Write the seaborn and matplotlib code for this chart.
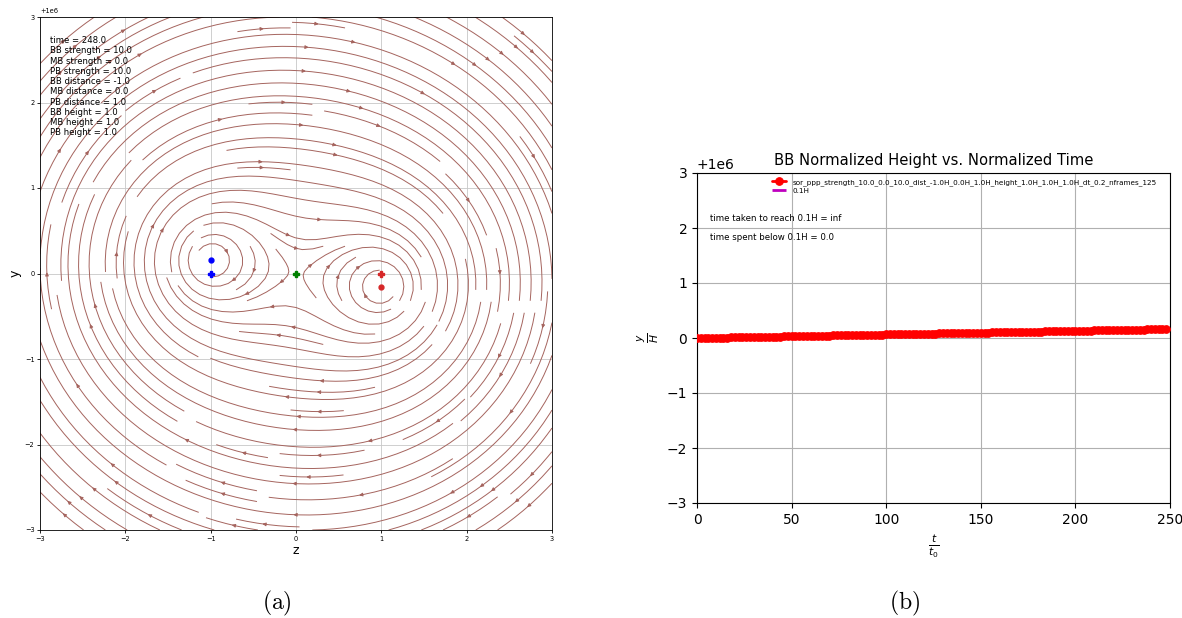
import numpy as np
import matplotlib
matplotlib.use("Agg")
import matplotlib.pyplot as plt
import seaborn as sns
import pandas as pd

# ---------------- data ----------------
y_offset = 1e6
vortex_labels = ["BB", "MB", "PB"]
vortex_z = [-1.0, 0.0, 1.0]
vortex_y = [0.16, 0.0, -0.16]
vortex_strength = [10.0, 0.0, 10.0]
vortex_colors = ["blue", "green", "#d62728"]
anchor_z = [-1.0, 0.0, 1.0]
anchor_y = [0.0, 0.0, 0.0]
info_lines = [
    "time = 248.0",
    "BB strength = 10.0",
    "MB strength = 0.0",
    "PB strength = 10.0",
    "BB distance = -1.0",
    "MB distance = 0.0",
    "PB distance = 1.0",
    "BB height = 1.0",
    "MB height = 1.0",
    "PB height = 1.0",
]
frame_times = list(range(0, 250, 2))
bb_height = [
    -0.002, -0.001, 0.001, 0.002, 0.003, 0.005, 0.006, 0.007, 0.009, 0.010,
    0.011, 0.013, 0.014, 0.015, 0.016, 0.018, 0.019, 0.020, 0.022, 0.023,
    0.024, 0.026, 0.027, 0.028, 0.030, 0.031, 0.032, 0.034, 0.035, 0.036,
    0.038, 0.039, 0.040, 0.042, 0.043, 0.044, 0.046, 0.047, 0.048, 0.049,
    0.051, 0.052, 0.053, 0.055, 0.056, 0.057, 0.059, 0.060, 0.061, 0.063,
    0.064, 0.065, 0.067, 0.068, 0.069, 0.071, 0.072, 0.073, 0.075, 0.076,
    0.077, 0.079, 0.080, 0.081, 0.082, 0.084, 0.085, 0.086, 0.088, 0.089,
    0.090, 0.092, 0.093, 0.094, 0.096, 0.097, 0.098, 0.100, 0.101, 0.102,
    0.104, 0.105, 0.106, 0.108, 0.109, 0.110, 0.112, 0.113, 0.114, 0.115,
    0.117, 0.118, 0.119, 0.121, 0.122, 0.123, 0.125, 0.126, 0.127, 0.129,
    0.130, 0.131, 0.133, 0.134, 0.135, 0.137, 0.138, 0.139, 0.141, 0.142,
    0.143, 0.145, 0.146, 0.147, 0.148, 0.150, 0.151, 0.152, 0.154, 0.155,
    0.156, 0.158, 0.159, 0.160, 0.162,
]
series_label = "sor_ppp_strength_10.0_0.0_10.0_dist_-1.0H_0.0H_1.0H_height_1.0H_1.0H_1.0H_dt_0.2_nframes_125"
threshold_label = "0.1H"
stats_lines = ["time taken to reach 0.1H = inf", "time spent below 0.1H = 0.0"]

# ---------------- style ----------------
sns.set_style("ticks")
plt.rcParams["font.family"] = ["DejaVu Sans"]
plt.rcParams["text.color"] = "black"
plt.rcParams["axes.labelcolor"] = "black"
plt.rcParams["xtick.color"] = "black"
plt.rcParams["ytick.color"] = "black"

fig = plt.figure(figsize=(11.82, 6.18), dpi=100)
ax1 = fig.add_axes([40 / 1182, 1 - 530 / 618, 512 / 1182, 513 / 618])
ax2 = fig.add_axes([697 / 1182, 1 - 503 / 618, 473 / 1182, 330 / 618])

# ---------------- left panel: streamlines ----------------
zs = np.linspace(-3, 3, 241)
ys = np.linspace(-3, 3, 241)
Z, Y = np.meshgrid(zs, ys)
U = np.zeros_like(Z)
V = np.zeros_like(Z)
core = 0.05
for z0, y0, g in zip(vortex_z, vortex_y, vortex_strength):
    dz = Z - z0
    dy = Y - y0
    r2 = dz ** 2 + dy ** 2 + core ** 2
    U += g * dy / r2
    V += -g * dz / r2

ax1.streamplot(zs, ys + y_offset, U, V, density=1.6, color="#a5645e",
               linewidth=0.7, arrowsize=0.5, zorder=2)
for z0, y0, c in zip(vortex_z, vortex_y, vortex_colors):
    if c == "green":
        continue
    ax1.plot(z0, y0 + y_offset, "o", color=c, markersize=3.5, zorder=4)
for z0, y0, c in zip(anchor_z, anchor_y, vortex_colors):
    ax1.plot(z0, y0 + y_offset, "P", color=c, markersize=5, zorder=4)

ax1.set_xlim(-3, 3)
ax1.set_ylim(y_offset - 3, y_offset + 3)
ax1.set_xticks([-3, -2, -1, 0, 1, 2, 3])
ax1.set_yticks([y_offset + v for v in [-3, -2, -1, 0, 1, 2, 3]])
ax1.tick_params(labelsize=4.8, length=2.5, width=0.6, pad=1.5)
ax1.yaxis.get_offset_text().set_fontsize(4.8)
ax1.grid(True, color="#c8c8c8", linewidth=0.6, zorder=0)
ax1.set_xlabel("z", fontsize=9, labelpad=2)
ax1.set_ylabel("y", fontsize=9, labelpad=2)
for s in ax1.spines.values():
    s.set_linewidth(0.6)
    s.set_color("black")
ax1.text(0.02, 0.963, "\n".join(info_lines), transform=ax1.transAxes,
         fontsize=6.1, va="top", ha="left", linespacing=1.18, zorder=5)

# ---------------- right panel ----------------
df = pd.DataFrame({"t": frame_times, "h": np.array(bb_height) + y_offset})
sns.lineplot(data=df, x="t", y="h", ax=ax2, color="red", marker="o",
             markersize=5.5, markeredgecolor="red", linewidth=4,
             label=series_label, zorder=3)
ax2.plot([], [], color="m", linestyle="-.", linewidth=2, label=threshold_label)
ax2.set_xlim(0, 250)
ax2.set_ylim(y_offset - 3, y_offset + 3)
ax2.set_xticks([0, 50, 100, 150, 200, 250])
ax2.set_yticks([y_offset + v for v in [-3, -2, -1, 0, 1, 2, 3]])
ax2.tick_params(labelsize=10, length=3.5, width=0.8)
ax2.yaxis.get_offset_text().set_fontsize(10)
ax2.grid(True, color="#b0b0b0", linewidth=0.8, zorder=0)
for s in ax2.spines.values():
    s.set_linewidth(0.8)
    s.set_color("black")
ax2.set_title("BB Normalized Height vs. Normalized Time", fontsize=10.6, pad=6)
ax2.set_xlabel(r"$\frac{t}{t_0}$", fontsize=11)
ax2.set_ylabel(r"$\frac{y}{H}$", fontsize=11)
leg = ax2.legend(loc="upper center", bbox_to_anchor=(0.565, 1.0), fontsize=5.2,
                 frameon=False, handlelength=2.0, borderpad=0.3, labelspacing=0.3)
for h in leg.get_lines():
    h.set_linewidth(2)
ax2.text(0.027, 0.861, stats_lines[0], transform=ax2.transAxes, fontsize=6.2,
         va="center", ha="left")
ax2.text(0.027, 0.806, stats_lines[1], transform=ax2.transAxes, fontsize=6.2,
         va="center", ha="left")

# ---------------- captions ----------------
fig.text(277 / 1182, 1 - 603 / 618, r"$\mathrm{(a)}$", ha="center", va="center",
         fontsize=17, math_fontfamily="cm")
fig.text(905 / 1182, 1 - 603 / 618, r"$\mathrm{(b)}$", ha="center", va="center",
         fontsize=17, math_fontfamily="cm")

fig.savefig("out.png", dpi=100)
